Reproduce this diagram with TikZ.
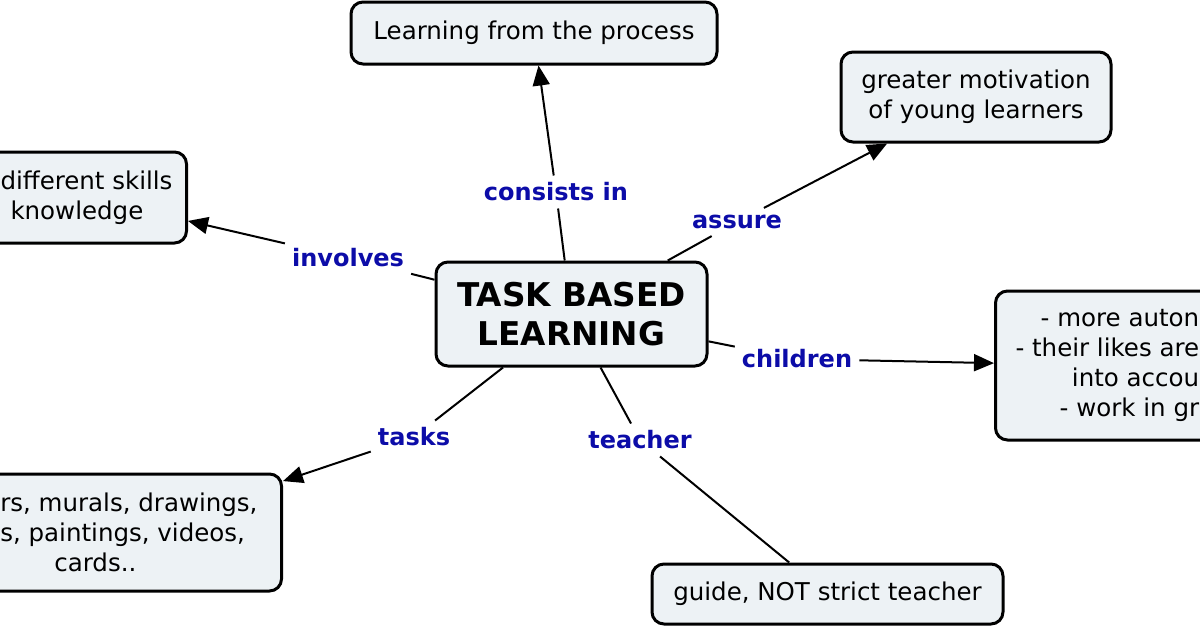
\documentclass[tikz,border=0pt]{standalone}
\usepackage{fontspec}
\setmainfont{DejaVu Sans}
\usetikzlibrary{arrows.meta}
\definecolor{boxfill}{RGB}{237,242,245}
\definecolor{linkblue}{RGB}{12,12,168}

\begin{document}
\begin{tikzpicture}[x=1pt, y=-1pt]
    % Canvas 1200 x 630, y grows downward
    \useasboundingbox (0,0) rectangle (1200,630);
    \clip (0,0) rectangle (1200,630);

    % Centres of the concept boxes
    \coordinate (P_tbl) at (571.5, 314.0);
    \coordinate (P_process) at (534.0, 33.0);
    \coordinate (P_motiv) at (976.0, 97.0);
    \coordinate (P_guide) at (827.5, 594.0);

    % Styles for boxes, link words and connectors
    \tikzset{
        c_box/.style={draw=black, line width=3pt, rounded corners=12pt, fill=boxfill,
            inner xsep=20pt, inner ysep=0pt, font=\fontsize{24.5}{30}\selectfont},
        c_main/.style={c_box, font=\bfseries\fontsize{32.7}{39}\selectfont},
        c_link/.style={text=linkblue, inner sep=7pt, font=\bfseries\fontsize{24}{28}\selectfont},
        c_line/.style={line width=2pt},
        c_arrow/.style={line width=2pt, -{Triangle[length=20pt, width=17pt]}}
    }

    % Main concept
    \node[c_main, minimum width=271pt, minimum height=104pt, align=center] (tbl) at (P_tbl) {TASK BASED\\LEARNING};

    % Outer concepts
    \node[c_box, minimum width=366pt, minimum height=62pt] (process) at (P_process) {Learning from the process};
    \node[c_box, minimum height=91pt, inner xsep=14pt, align=left, anchor=east] (skills) at (188, 197.5) {different skills\\\hspace*{10pt}knowledge};
    \node[c_box, minimum width=270pt, minimum height=90pt, align=center] (motiv) at (P_motiv) {greater motivation\\of young learners};
    \node[c_box, minimum height=117pt, inner xsep=24pt, align=left, anchor=east] (works) at (283, 532.5) {rs, murals, drawings,\\s, paintings, videos,\\\hspace*{54pt}cards..};
    \node[c_box, minimum height=149pt, align=right, anchor=west] (kids) at (994, 365.5) {- more auton\\- their likes are\\into accou\\- work in gr};
    \node[c_box, minimum width=351pt, minimum height=60pt] (guide) at (P_guide) {guide, NOT strict teacher};

    % Link words
    \node[c_link] (l_cons) at (556, 192) {consists in};
    \node[c_link] (l_assure) at (737, 222) {assure};
    \node[c_link] (l_inv) at (348, 258) {involves};
    \node[c_link] (l_child) at (797, 359) {children};
    \node[c_link] (l_tasks) at (414, 437) {tasks};
    \node[c_link] (l_teach) at (640, 440) {teacher};

    % Connectors: main concept -> link word -> concept
    \draw[c_line] (tbl) -- (l_cons);
    \draw[c_arrow] (l_cons) -- (process);
    \draw[c_line] (tbl) -- (l_assure);
    \draw[c_arrow] (l_assure) -- (motiv);
    \draw[c_line] (tbl) -- (l_inv);
    \draw[c_arrow] (l_inv) -- (skills);
    \draw[c_line] (tbl) -- (l_child);
    \draw[c_arrow] (l_child) -- (kids);
    \draw[c_line] (tbl) -- (l_tasks);
    \draw[c_arrow] (l_tasks) -- (works);
    \draw[c_line] (tbl) -- (l_teach);
    \draw[c_line] (l_teach) -- (guide);
\end{tikzpicture}
\end{document}
